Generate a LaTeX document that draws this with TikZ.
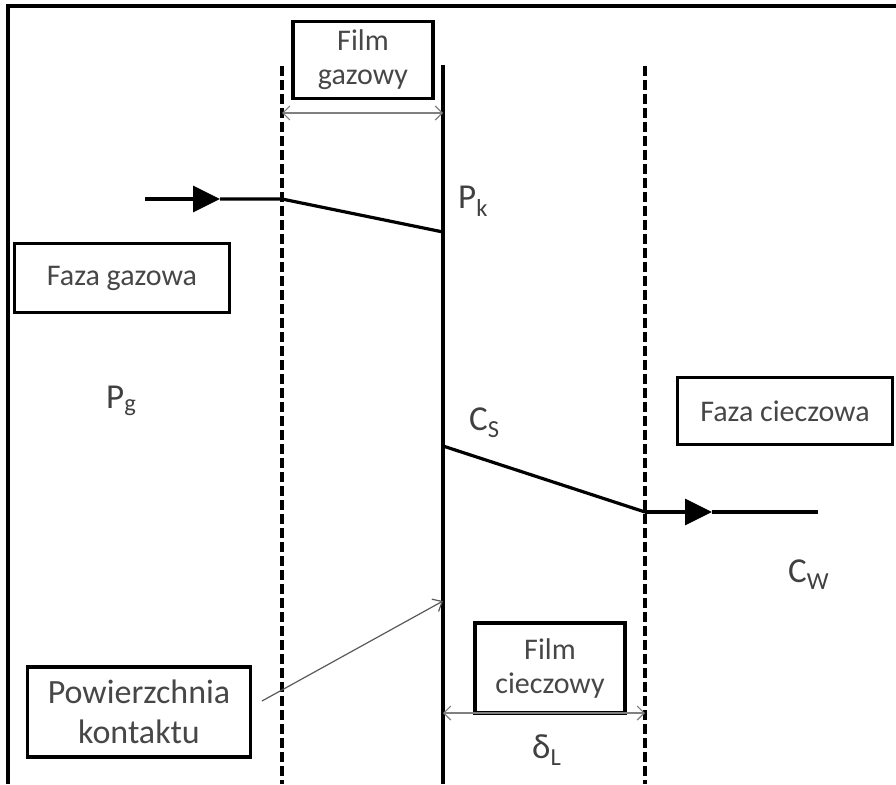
\documentclass[tikz,border=0pt]{standalone}
\usepackage{fontspec}
\setmainfont{Carlito}
\usepackage{xcolor}
\usetikzlibrary{arrows.meta,positioning}

\begin{document}
\begin{tikzpicture}[x=1pt, y=-1pt,
    box/.style={draw, line width=3.4pt, text=black!72, align=center,
      inner sep=0pt, minimum width=#1, font=\fontsize{30}{34}\selectfont},
    conc/.style={text=black!75, inner sep=0pt, anchor=base west,
      font=\fontsize{35}{40}\selectfont},
    filmedge/.style={line width=3.2pt, dash pattern=on 9.5pt off 4.5pt},
    flow/.style={line width=3.2pt},
    flowtip/.style={flow, -{Triangle[length=27pt, width=26pt]}},
    span/.style={line width=1.2pt, black!50,
      {Straight Barb[length=7pt, width=14pt]}-{Straight Barb[length=7pt, width=14pt]}},
    pointer/.style={line width=1.2pt, black!65, -{Straight Barb[length=8pt, width=14pt]}}
  ]
  \useasboundingbox (0,0) rectangle (896,784);

  % Frame (top and left)
  \draw[line width=4.5pt] (896,6) -- (8,6) -- (8,784);

  % Interface and film edges
  \coordinate (ifTop) at (443,65);
  \coordinate (ifBot) at (443,784);
  \draw[line width=3.6pt] (ifTop) -- (ifBot);
  \draw[filmedge] (282,66) -- (282,784);
  \draw[filmedge] (645,66) -- (645,784);

  % Boxes
  \node[box=140pt, minimum height=77pt] (filmgas) at (363,60) {Film\\gazowy};
  \node[box=215pt, minimum height=69pt] (fazagas) at (122,278) {Faza gazowa};
  \node[box=215pt, minimum height=67pt] (fazaliq) at (785,411) {Faza cieczowa};
  \node[box=150pt, minimum height=90pt] (filmliq) at (550,668) {Film\\cieczowy};
  \node[box=223pt, minimum height=90pt, font=\fontsize{34}{40}\selectfont]
    (surface) at (139,712) {Powierzchnia\\kontaktu};

  % Film thickness spans
  \coordinate (gsL) at (282,113);
  \coordinate (gsR) at (443,113);
  \coordinate (lsL) at (443,713);
  \coordinate (lsR) at (645,713);
  \draw[span] (gsL) -- (gsR);
  \draw[span] (lsR) -- (lsL);

  % Gas side profile
  \coordinate (gin) at (145,199);
  \coordinate (gmid) at (220,199);
  \coordinate (gedge) at (282,199);
  \coordinate (gk) at (443,232);
  \draw[flowtip] (gin) -- (gmid);
  \draw[flow] (gmid) -- (gedge) -- (gk);

  % Liquid side profile
  \coordinate (ls) at (443,446);
  \coordinate (ledge) at (645,512);
  \coordinate (lmid) at (712,512);
  \coordinate (lout) at (818,512);
  \draw[flow] (ls) -- (ledge);
  \draw[flowtip] (ledge) -- (lmid);
  \draw[flow] (lmid) -- (lout);

  % Contact surface pointer
  \coordinate (surfTip) at (443,601);
  \draw[pointer] (262,701) -- (surfTip);

  % Concentration labels
  \node[conc] (pk) at (458,208) {P\textsubscript{k}};
  \node[conc] (pg) at (106,408) {P\textsubscript{g}};
  \node[conc] (cs) at (469,430) {C\textsubscript{S}};
  \node[conc] (cw) at (788,582) {C\textsubscript{W}};
  \node[conc] (dl) at (532,758) {δ\textsubscript{L}};
\end{tikzpicture}
\end{document}
